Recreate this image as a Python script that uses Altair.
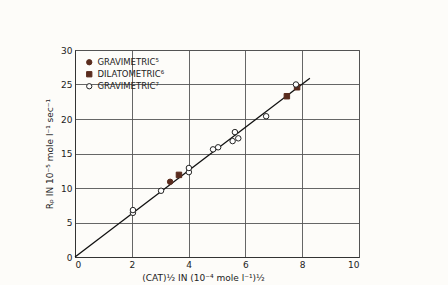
import altair as alt
import pandas as pd

# Data
series_names = ["GRAVIMETRIC\u2075", "DILATOMETRIC\u2076", "GRAVIMETRIC\u2077"]

grav5_x = [3.35]
grav5_y = [10.9]

dil6_x = [3.66, 7.46, 7.82]
dil6_y = [11.9, 23.3, 24.6]

grav7_x = [2.04, 2.04, 3.03, 4.01, 4.01, 4.86, 5.04, 5.55, 5.75, 5.63, 6.73, 7.78]
grav7_y = [6.4, 6.8, 9.6, 12.3, 12.9, 15.6, 15.9, 16.8, 17.2, 18.1, 20.4, 25.0]

fit_x = [0.0, 8.27]
fit_y = [0.0, 25.9]

x_ticks = [0, 2, 4, 6, 8, 10]
y_ticks = [0, 5, 10, 15, 20, 25, 30]

rows = []
for xs, ys, name in [(grav5_x, grav5_y, series_names[0]),
                     (dil6_x, dil6_y, series_names[1]),
                     (grav7_x, grav7_y, series_names[2])]:
    for a, b in zip(xs, ys):
        rows.append({"x": a, "y": b, "series": name})
pts = pd.DataFrame(rows)
line_df = pd.DataFrame({"x": fit_x, "y": fit_y})

FONT = "DejaVu Sans"
brown = "#5a2c1e"

xscale = alt.Scale(domain=[0, 10], nice=False)
yscale = alt.Scale(domain=[0, 30], nice=False)

xaxis = alt.Axis(values=x_ticks, title="(CAT)\u00bd  IN  (10\u207b\u2074 mole l\u207b\u00b9)\u00bd",
                 grid=True, gridColor="#555555", gridWidth=0.9, domainColor="#333333",
                 tickSize=0, labelFont=FONT, labelFontSize=9, labelColor="#222222",
                 labelPadding=3, labelOverlap=False, titleFont=FONT, titleFontSize=9,
                 titleFontWeight="normal", titleColor="#222222", titlePadding=4, titleX=128)
yaxis = alt.Axis(values=y_ticks, title="R\u209a  IN  10\u207b\u2075 mole l\u207b\u00b9 sec\u207b\u00b9",
                 grid=True, gridColor="#555555", gridWidth=0.9, domainColor="#333333",
                 tickSize=0, labelFont=FONT, labelFontSize=9, labelColor="#222222",
                 labelPadding=3, labelOverlap=False, titleFont=FONT, titleFontSize=9,
                 titleFontWeight="normal", titleColor="#222222", titlePadding=6)

line = alt.Chart(line_df).mark_line(color="#111111", strokeWidth=1.3).encode(
    x=alt.X("x:Q", scale=xscale, axis=xaxis),
    y=alt.Y("y:Q", scale=yscale, axis=yaxis),
)

legend = alt.Legend(title=None, orient="none", legendX=10, legendY=8,
                    labelFont=FONT, labelFontSize=8.5, labelColor="#222222",
                    symbolSize=28, rowPadding=2, symbolStrokeWidth=1)

points = alt.Chart(pts).mark_point(filled=False, size=30, strokeWidth=1, opacity=1).encode(
    x=alt.X("x:Q", scale=xscale, axis=xaxis),
    y=alt.Y("y:Q", scale=yscale, axis=yaxis),
    shape=alt.Shape("series:N", scale=alt.Scale(domain=series_names, range=["circle", "square", "circle"]), legend=legend),
    fill=alt.Fill("series:N", scale=alt.Scale(domain=series_names, range=[brown, brown, "#ffffff"]), legend=legend),
    stroke=alt.Stroke("series:N", scale=alt.Scale(domain=series_names, range=[brown, brown, "#222222"]), legend=legend),
)

chart = alt.layer(line, points).properties(
    width=284, height=207,
    autosize=alt.AutoSizeParams(type="none"),
    padding={"left": 75, "top": 50, "right": 89, "bottom": 28},
    background="#fdfcf9",
).configure_view(stroke="#444444", strokeWidth=1)

chart.save("out.html", embed_options={"renderer": "svg", "actions": False})
